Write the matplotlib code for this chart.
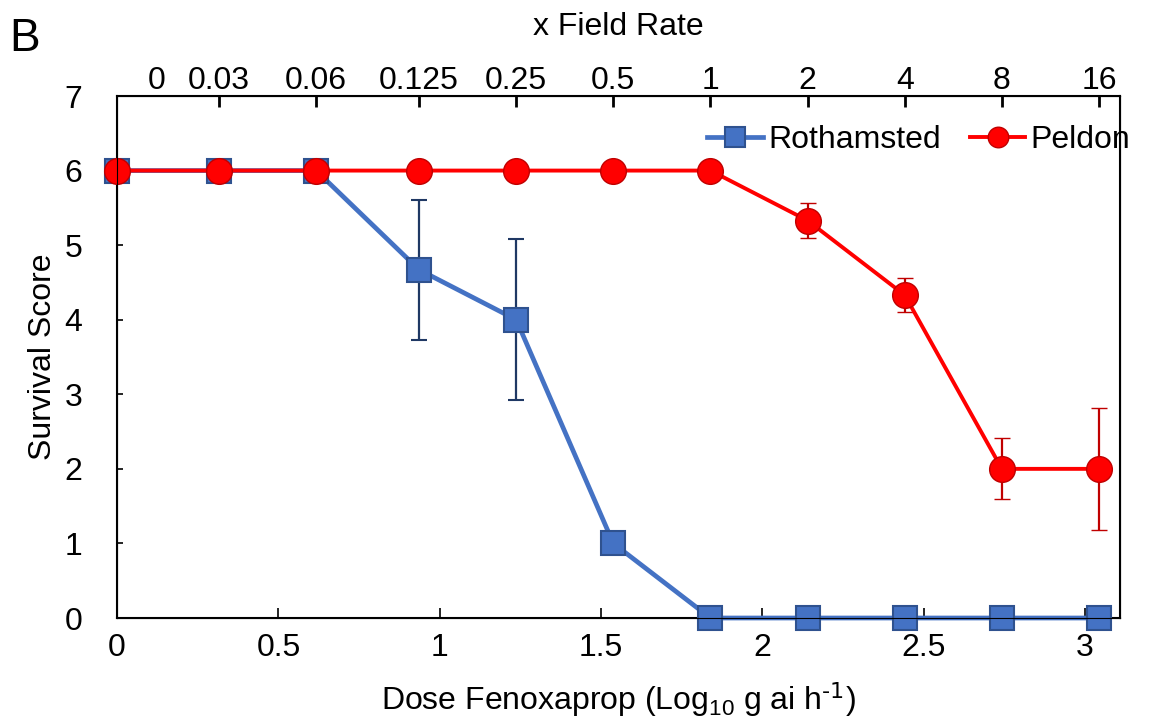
import matplotlib
matplotlib.use("Agg")
import matplotlib.pyplot as plt

plt.rcParams['font.family'] = ['Liberation Sans', 'DejaVu Sans']
plt.rcParams['mathtext.default'] = 'regular'

# log10 dose (g ai/ha), 0 dose plotted at 0
dose = [0, 0.316, 0.617, 0.936, 1.237, 1.538, 1.839, 2.140, 2.441, 2.742, 3.043]
field_rate = ['0.03', '0.06', '0.125', '0.25', '0.5', '1', '2', '4', '8', '16']

roth = [6, 6, 6, 4.67, 4, 1, 0, 0, 0, 0, 0]
roth_err = [0, 0, 0, 0.94, 1.08, 0, 0, 0, 0, 0, 0]
peld = [6, 6, 6, 6, 6, 6, 6, 5.33, 4.33, 2, 2]
peld_err = [0, 0, 0, 0, 0, 0, 0, 0.23, 0.23, 0.41, 0.82]

fs = 23

fig = plt.figure(figsize=(11.52, 7.24), dpi=100)
ax = fig.add_axes([0.1016, 0.1464, 0.8706, 0.721])

r = ax.errorbar(dose, roth, yerr=roth_err, color='#4472C4', lw=3.4,
                marker='s', ms=17.5, mfc='#4472C4', mec='#2F528F', mew=1.5,
                ecolor='#1F3864', elinewidth=1.6, capsize=6, capthick=1.6,
                zorder=3)
p = ax.errorbar(dose, peld, yerr=peld_err, color='#FF0000', lw=2.8,
                marker='o', ms=18.5, mfc='#FF0000', mec='#C00000', mew=1,
                ecolor='#C00000', elinewidth=1.6, capsize=6, capthick=1.6,
                zorder=4)
# let markers at the frame edge show fully
for cont in (r, p):
    cont[0].set_clip_on(False)
    for a in cont[1]:
        a.set_clip_on(False)
    for a in cont[2]:
        a.set_clip_on(False)

ax.set_xlim(0, 3.108)
ax.set_ylim(0, 7)
ax.set_xticks([0, 0.5, 1, 1.5, 2, 2.5, 3])
ax.set_xticklabels(['0', '0.5', '1', '1.5', '2', '2.5', '3'])
ax.set_yticks(range(8))
ax.tick_params(axis='x', direction='in', length=7, width=1.2, labelsize=fs, pad=11)
ax.tick_params(axis='y', direction='in', length=4, width=1.2, labelsize=fs, pad=25)
for s in ax.spines.values():
    s.set_linewidth(1.5)

ax.set_xlabel(r'Dose Fenoxaprop (Log$_{10}$ g ai h$^{\text{-1}}$)', fontsize=fs, labelpad=12)
ax.set_ylabel('Survival Score', fontsize=fs, labelpad=5)

top = ax.twiny()
top.set_xlim(ax.get_xlim())
top.set_xticks([0.124] + dose[1:])
top.set_xticklabels(['0'] + field_rate)
top.tick_params(axis='x', direction='in', length=8, width=2, labelsize=fs, pad=0)
top.xaxis.get_major_ticks()[0].tick2line.set_visible(False)
top.set_xlabel('x Field Rate', fontsize=fs, labelpad=22)

leg = ax.legend([r[0], p[0]], ['Rothamsted', 'Peldon'], loc='center right',
                bbox_to_anchor=(1130 / 1152, 1 - 140 / 724),
                bbox_transform=fig.transFigure,
                ncol=2, frameon=False, fontsize=fs, handlelength=1.75,
                columnspacing=0.9, handletextpad=0.15, borderpad=0,
                borderaxespad=0, numpoints=1, markerscale=0.8)

fig.text(0.008, 0.93, 'B', fontsize=33)

fig.savefig('out.png', dpi=100)
